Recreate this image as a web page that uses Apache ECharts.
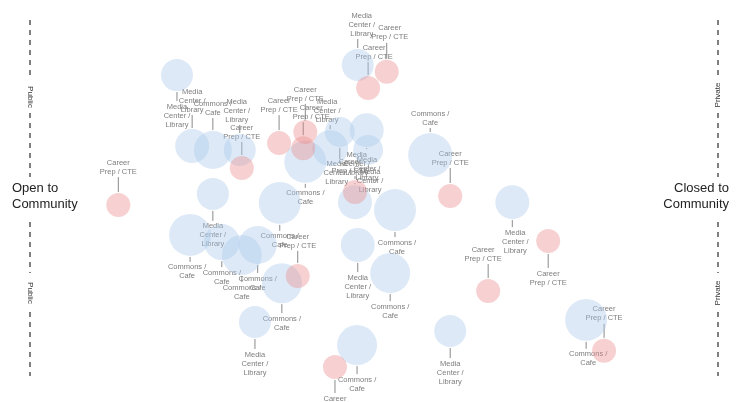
<!DOCTYPE html>
<html><head><meta charset="utf-8">
<script src="https://cdn.jsdelivr.net/npm/echarts@6/dist/echarts.min.js"></script>
<style>html,body{margin:0;padding:0;background:#fff}#c{width:746px;height:402px}</style>
</head><body><div id="c"></div>
<script>
// program categories and their wrapped label text
const programTypes = ['Media Center / Library', 'Commons / Cafe', 'Career Prep / CTE'];
const programLabels = ['Media\nCenter /\nLibrary', 'Commons /\nCafe', 'Career\nPrep / CTE'];

// x: 0 = open to community ... 100 = closed to community ; y: public/private position
const schoolX = [21.3, 23.5, 26.5, 30.4, 39.9, 43.5, 48.8, 49.0, 44.9, 47.5, 58.0, 26.5, 36.2, 47.1, 52.9, 23.2, 27.8, 30.7, 33.0, 47.5, 52.2, 36.5, 32.6, 47.4, 60.9, 69.9, 80.6,
                 12.8, 51.7, 49.0, 36.1, 39.9, 39.6, 30.7, 60.9, 75.1, 66.4, 38.8, 83.2, 44.2, 47.1];
const schoolY = [84.7, 65.0, 63.9, 63.9, 60.6, 64.4, 69.4, 63.9, 68.9, 87.5, 62.5, 51.7, 49.2, 49.4, 47.2, 40.3, 38.3, 34.7, 37.5, 37.5, 29.7, 26.9, 16.1, 9.7, 13.6, 49.4, 16.7,
                 48.6, 85.6, 81.1, 65.8, 68.9, 64.4, 58.9, 51.1, 38.6, 24.7, 28.9, 8.1, 3.6, 52.2];
const schoolSize = [64, 72, 90, 64, 110, 81, 72, 56, 56, 64, 121, 64, 110, 72, 110, 110, 81, 100, 90, 72, 100, 100, 64, 100, 64, 72, 110,
                    36, 36, 36, 36, 36, 36, 36, 36, 36, 36, 36, 36, 36, 36];
const schoolType = [0, 0, 1, 0, 1, 0, 0, 0, 0, 0, 1, 0, 1, 0, 1, 1, 1, 1, 1, 0, 1, 1, 0, 1, 0, 0, 1,
                    2, 2, 2, 2, 2, 2, 2, 2, 2, 2, 2, 2, 2, 2];

// label placement (layout only): side 1 = below, -1 = above; leader length; horizontal shift
const labelSide = [1, -1, -1, -1, 1, -1, 1, 1, 1, -1, -1, 1, 1, -1, 1, 1, 1, 1, 1, 1, 1, 1, 1, 1, 1, 1, 1,
                   -1, -1, -1, -1, -1, -1, -1, -1, 1, -1, -1, -1, 1, -1];
const leaderLen = [10, 14, 13, 9, 5, 5, 2, 2, 12, 10, 5, 11, 7, 2, 6, 6, 7, 7, 9, 10, 8, 10, 11, 9, 11, 8, 8,
                   16, 17, 14, 16, 16, 14, 14, 16, 15, 15, 13, 15, 14, 4];
const labelDx = [0, 0, 0, -3, 0, -3, -10, 2, -3, 4, 0, 0, 0, 12, 2, -3, 0, 0, 0, 0, 0, 0, 0, 0, 0, 3, 2,
                 0, 3, 6, 0, 0, 8, 0, 0, 0, -5, 0, 0, 0, -5];

const typeColors = ['rgba(170,200,235,0.5)', 'rgba(170,200,235,0.5)', 'rgba(235,140,140,0.5)'];
const diameter = v => 4 * Math.sqrt(v);

const points = schoolX.map((x, i) => [x, schoolY[i], schoolSize[i], schoolType[i]]);

const chart = echarts.init(document.getElementById('c'), null, {renderer: 'canvas'});

const FONT = '"Liberation Sans", Arial, sans-serif';
function vText(x, y, text, rot) {
  return {type: 'text', x: x, y: y, rotation: rot, silent: true,
    style: {text: text, fill: '#333', fontSize: 8, fontFamily: FONT, textAlign: 'center', textVerticalAlign: 'middle'}};
}
function dash(x, y1, y2) {
  return {type: 'line', silent: true, shape: {x1: x, y1: y1, x2: x, y2: y2},
    style: {stroke: '#555', lineWidth: 1.5, lineDash: [5, 5]}};
}

chart.setOption({
  animation: false,
  grid: {left: 30, right: 26, top: 20, bottom: 22},
  xAxis: {type: 'value', min: 0, max: 100, show: false},
  yAxis: {type: 'value', min: 0, max: 100, show: false},
  graphic: [
    dash(30, 20, 80), dash(30, 113, 177), dash(30, 222, 273), dash(30, 312, 376),
    dash(718, 20, 80), dash(718, 113, 177), dash(718, 222, 273), dash(718, 312, 376),
    vText(30, 97, 'Public', -Math.PI / 2), vText(30, 293, 'Public', -Math.PI / 2),
    vText(718, 95, 'Private', Math.PI / 2), vText(718, 293, 'Private', Math.PI / 2),
    {type: 'text', x: 12, y: 180, silent: true,
     style: {text: 'Open to\nCommunity', fill: '#222', fontSize: 13, lineHeight: 16, fontFamily: FONT, textAlign: 'left', textVerticalAlign: 'top'}},
    {type: 'text', x: 729, y: 180, silent: true,
     style: {text: 'Closed to\nCommunity', fill: '#222', fontSize: 13, lineHeight: 16, fontFamily: FONT, textAlign: 'right', textVerticalAlign: 'top'}}
  ],
  series: [
    {
      type: 'custom',
      z: 1,
      silent: true,
      data: points,
      renderItem: function (params, api) {
        const i = params.dataIndex;
        const c = api.coord([api.value(0), api.value(1)]);
        const r = diameter(api.value(2)) / 2;
        const side = labelSide[i];
        const y0 = c[1] + side * (r + 1);
        const y1 = c[1] + side * (r + leaderLen[i]);
        return {
          type: 'group',
          children: [
            {type: 'line', shape: {x1: c[0], y1: y0, x2: c[0], y2: y1},
             style: {stroke: '#8a8a8a', lineWidth: 1}},
            {type: 'text', x: c[0] + labelDx[i], y: y1 + side,
             style: {text: programLabels[api.value(3)], fill: '#7d7d7d', fontSize: 7.5, lineHeight: 9,
                     fontFamily: FONT, textAlign: 'center', textVerticalAlign: side > 0 ? 'top' : 'bottom'}}
          ]
        };
      }
    },
    {
      type: 'scatter',
      z: 2,
      silent: true,
      data: points,
      symbolSize: v => diameter(v[2]),
      itemStyle: {color: p => typeColors[p.value[3]]},
      emphasis: {disabled: true}
    }
  ]
});
</script>
</body></html>
